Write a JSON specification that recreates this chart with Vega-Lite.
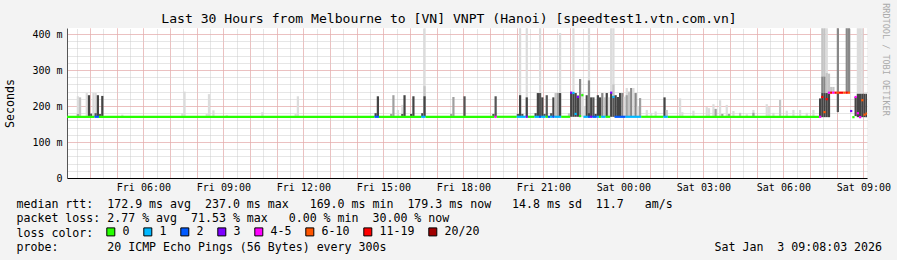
{
  "$schema": "https://vega.github.io/schema/vega-lite/v6.json",
  "width": 800,
  "height": 150,
  "autosize": {"type": "none"},
  "padding": {"left": 67, "top": 28, "right": 30, "bottom": 82},
  "background": "#f3f3f3",
  "config": {"view": {"fill": "white", "stroke": null}},
  "datasets": {
    "smoke": [
      {"t": "2026-01-02T03:30Z", "t2": "2026-01-02T03:35Z", "lo": 170, "hi": 227, "g": "a"},
      {"t": "2026-01-02T03:30Z", "t2": "2026-01-02T03:35Z", "lo": 170, "hi": 178, "g": "c"},
      {"t": "2026-01-02T03:35Z", "t2": "2026-01-02T03:40Z", "lo": 170, "hi": 224, "g": "b"},
      {"t": "2026-01-02T03:50Z", "t2": "2026-01-02T03:55Z", "lo": 170, "hi": 236, "g": "a"},
      {"t": "2026-01-02T03:55Z", "t2": "2026-01-02T04:00Z", "lo": 170, "hi": 230, "g": "f"},
      {"t": "2026-01-02T04:00Z", "t2": "2026-01-02T04:05Z", "lo": 170, "hi": 179, "g": "e"},
      {"t": "2026-01-02T04:05Z", "t2": "2026-01-02T04:10Z", "lo": 170, "hi": 236, "g": "a"},
      {"t": "2026-01-02T04:10Z", "t2": "2026-01-02T04:15Z", "lo": 170, "hi": 236, "g": "a"},
      {"t": "2026-01-02T04:10Z", "t2": "2026-01-02T04:15Z", "lo": 170, "hi": 180, "g": "e"},
      {"t": "2026-01-02T04:15Z", "t2": "2026-01-02T04:20Z", "lo": 170, "hi": 230, "g": "f"},
      {"t": "2026-01-02T04:20Z", "t2": "2026-01-02T04:25Z", "lo": 170, "hi": 178, "g": "e"},
      {"t": "2026-01-02T04:25Z", "t2": "2026-01-02T04:30Z", "lo": 170, "hi": 228, "g": "f"},
      {"t": "2026-01-02T05:10Z", "t2": "2026-01-02T05:15Z", "lo": 170, "hi": 176, "g": "a"},
      {"t": "2026-01-02T07:25Z", "t2": "2026-01-02T07:30Z", "lo": 170, "hi": 180, "g": "a"},
      {"t": "2026-01-02T07:30Z", "t2": "2026-01-02T07:35Z", "lo": 170, "hi": 240, "g": "a"},
      {"t": "2026-01-02T08:20Z", "t2": "2026-01-02T08:25Z", "lo": 170, "hi": 178, "g": "a"},
      {"t": "2026-01-02T08:25Z", "t2": "2026-01-02T08:30Z", "lo": 170, "hi": 233, "g": "a"},
      {"t": "2026-01-02T08:35Z", "t2": "2026-01-02T08:40Z", "lo": 170, "hi": 188, "g": "a"},
      {"t": "2026-01-02T09:05Z", "t2": "2026-01-02T09:10Z", "lo": 170, "hi": 175, "g": "a"},
      {"t": "2026-01-02T10:25Z", "t2": "2026-01-02T10:30Z", "lo": 170, "hi": 183, "g": "a"},
      {"t": "2026-01-02T11:40Z", "t2": "2026-01-02T11:45Z", "lo": 170, "hi": 178, "g": "a"},
      {"t": "2026-01-02T11:45Z", "t2": "2026-01-02T11:50Z", "lo": 170, "hi": 227, "g": "a"},
      {"t": "2026-01-02T14:40Z", "t2": "2026-01-02T14:45Z", "lo": 170, "hi": 180, "g": "f"},
      {"t": "2026-01-02T14:45Z", "t2": "2026-01-02T14:50Z", "lo": 170, "hi": 227, "g": "f"},
      {"t": "2026-01-02T15:15Z", "t2": "2026-01-02T15:20Z", "lo": 170, "hi": 178, "g": "c"},
      {"t": "2026-01-02T15:20Z", "t2": "2026-01-02T15:25Z", "lo": 170, "hi": 230, "g": "c"},
      {"t": "2026-01-02T15:30Z", "t2": "2026-01-02T15:35Z", "lo": 170, "hi": 189, "g": "a"},
      {"t": "2026-01-02T15:40Z", "t2": "2026-01-02T15:45Z", "lo": 170, "hi": 203, "g": "a"},
      {"t": "2026-01-02T15:40Z", "t2": "2026-01-02T15:45Z", "lo": 170, "hi": 178, "g": "e"},
      {"t": "2026-01-02T15:45Z", "t2": "2026-01-02T15:50Z", "lo": 170, "hi": 230, "g": "f"},
      {"t": "2026-01-02T16:00Z", "t2": "2026-01-02T16:05Z", "lo": 170, "hi": 178, "g": "f"},
      {"t": "2026-01-02T16:05Z", "t2": "2026-01-02T16:10Z", "lo": 170, "hi": 227, "g": "f"},
      {"t": "2026-01-02T16:25Z", "t2": "2026-01-02T16:30Z", "lo": 170, "hi": 180, "g": "f"},
      {"t": "2026-01-02T16:30Z", "t2": "2026-01-02T16:35Z", "lo": 170, "hi": 416, "g": "a"},
      {"t": "2026-01-02T16:30Z", "t2": "2026-01-02T16:35Z", "lo": 170, "hi": 255, "g": "b"},
      {"t": "2026-01-02T16:30Z", "t2": "2026-01-02T16:35Z", "lo": 170, "hi": 227, "g": "f"},
      {"t": "2026-01-02T17:30Z", "t2": "2026-01-02T17:35Z", "lo": 170, "hi": 178, "g": "c"},
      {"t": "2026-01-02T17:35Z", "t2": "2026-01-02T17:40Z", "lo": 170, "hi": 225, "g": "c"},
      {"t": "2026-01-02T18:00Z", "t2": "2026-01-02T18:05Z", "lo": 170, "hi": 227, "g": "e"},
      {"t": "2026-01-02T19:05Z", "t2": "2026-01-02T19:10Z", "lo": 170, "hi": 178, "g": "e"},
      {"t": "2026-01-02T19:10Z", "t2": "2026-01-02T19:15Z", "lo": 170, "hi": 227, "g": "e"},
      {"t": "2026-01-02T20:00Z", "t2": "2026-01-02T20:05Z", "lo": 170, "hi": 178, "g": "e"},
      {"t": "2026-01-02T20:05Z", "t2": "2026-01-02T20:10Z", "lo": 170, "hi": 416, "g": "a"},
      {"t": "2026-01-02T20:05Z", "t2": "2026-01-02T20:10Z", "lo": 170, "hi": 230, "g": "f"},
      {"t": "2026-01-02T20:10Z", "t2": "2026-01-02T20:15Z", "lo": 170, "hi": 178, "g": "e"},
      {"t": "2026-01-02T20:20Z", "t2": "2026-01-02T20:25Z", "lo": 170, "hi": 416, "g": "a"},
      {"t": "2026-01-02T20:20Z", "t2": "2026-01-02T20:25Z", "lo": 170, "hi": 224, "g": "f"},
      {"t": "2026-01-02T20:40Z", "t2": "2026-01-02T20:45Z", "lo": 170, "hi": 180, "g": "f"},
      {"t": "2026-01-02T20:45Z", "t2": "2026-01-02T20:50Z", "lo": 170, "hi": 236, "g": "f"},
      {"t": "2026-01-02T20:50Z", "t2": "2026-01-02T20:55Z", "lo": 170, "hi": 416, "g": "a"},
      {"t": "2026-01-02T20:50Z", "t2": "2026-01-02T20:55Z", "lo": 170, "hi": 236, "g": "e"},
      {"t": "2026-01-02T20:55Z", "t2": "2026-01-02T21:00Z", "lo": 170, "hi": 224, "g": "f"},
      {"t": "2026-01-02T21:00Z", "t2": "2026-01-02T21:05Z", "lo": 170, "hi": 178, "g": "e"},
      {"t": "2026-01-02T21:05Z", "t2": "2026-01-02T21:10Z", "lo": 170, "hi": 230, "g": "e"},
      {"t": "2026-01-02T21:15Z", "t2": "2026-01-02T21:20Z", "lo": 170, "hi": 180, "g": "e"},
      {"t": "2026-01-02T21:20Z", "t2": "2026-01-02T21:25Z", "lo": 170, "hi": 224, "g": "f"},
      {"t": "2026-01-02T21:25Z", "t2": "2026-01-02T21:30Z", "lo": 170, "hi": 236, "g": "b"},
      {"t": "2026-01-02T21:30Z", "t2": "2026-01-02T21:35Z", "lo": 170, "hi": 236, "g": "c"},
      {"t": "2026-01-02T21:35Z", "t2": "2026-01-02T21:40Z", "lo": 170, "hi": 403, "g": "a"},
      {"t": "2026-01-02T21:35Z", "t2": "2026-01-02T21:40Z", "lo": 170, "hi": 236, "g": "f"},
      {"t": "2026-01-02T21:55Z", "t2": "2026-01-02T22:00Z", "lo": 170, "hi": 180, "g": "b"},
      {"t": "2026-01-02T22:00Z", "t2": "2026-01-02T22:05Z", "lo": 170, "hi": 236, "g": "f"},
      {"t": "2026-01-02T22:05Z", "t2": "2026-01-02T22:10Z", "lo": 170, "hi": 416, "g": "a"},
      {"t": "2026-01-02T22:05Z", "t2": "2026-01-02T22:10Z", "lo": 170, "hi": 236, "g": "f"},
      {"t": "2026-01-02T22:10Z", "t2": "2026-01-02T22:15Z", "lo": 170, "hi": 236, "g": "f"},
      {"t": "2026-01-02T22:15Z", "t2": "2026-01-02T22:20Z", "lo": 170, "hi": 229, "g": "f"},
      {"t": "2026-01-02T22:20Z", "t2": "2026-01-02T22:25Z", "lo": 170, "hi": 275, "g": "d"},
      {"t": "2026-01-02T22:25Z", "t2": "2026-01-02T22:30Z", "lo": 170, "hi": 236, "g": "a"},
      {"t": "2026-01-02T22:30Z", "t2": "2026-01-02T22:35Z", "lo": 170, "hi": 200, "g": "a"},
      {"t": "2026-01-02T22:35Z", "t2": "2026-01-02T22:40Z", "lo": 170, "hi": 230, "g": "f"},
      {"t": "2026-01-02T22:40Z", "t2": "2026-01-02T22:45Z", "lo": 170, "hi": 416, "g": "a"},
      {"t": "2026-01-02T22:40Z", "t2": "2026-01-02T22:45Z", "lo": 170, "hi": 271, "g": "d"},
      {"t": "2026-01-02T22:40Z", "t2": "2026-01-02T22:45Z", "lo": 170, "hi": 180, "g": "f"},
      {"t": "2026-01-02T22:45Z", "t2": "2026-01-02T22:50Z", "lo": 170, "hi": 224, "g": "f"},
      {"t": "2026-01-02T22:50Z", "t2": "2026-01-02T22:55Z", "lo": 170, "hi": 224, "g": "e"},
      {"t": "2026-01-02T22:55Z", "t2": "2026-01-02T23:00Z", "lo": 170, "hi": 178, "g": "f"},
      {"t": "2026-01-02T23:00Z", "t2": "2026-01-02T23:05Z", "lo": 170, "hi": 230, "g": "f"},
      {"t": "2026-01-02T23:05Z", "t2": "2026-01-02T23:10Z", "lo": 170, "hi": 224, "g": "f"},
      {"t": "2026-01-02T23:10Z", "t2": "2026-01-02T23:15Z", "lo": 170, "hi": 236, "g": "d"},
      {"t": "2026-01-02T23:15Z", "t2": "2026-01-02T23:20Z", "lo": 170, "hi": 224, "g": "b"},
      {"t": "2026-01-02T23:20Z", "t2": "2026-01-02T23:25Z", "lo": 170, "hi": 236, "g": "f"},
      {"t": "2026-01-02T23:25Z", "t2": "2026-01-02T23:30Z", "lo": 170, "hi": 224, "g": "a"},
      {"t": "2026-01-02T23:30Z", "t2": "2026-01-02T23:35Z", "lo": 170, "hi": 416, "g": "a"},
      {"t": "2026-01-02T23:30Z", "t2": "2026-01-02T23:35Z", "lo": 170, "hi": 236, "g": "f"},
      {"t": "2026-01-02T23:35Z", "t2": "2026-01-02T23:40Z", "lo": 170, "hi": 416, "g": "a"},
      {"t": "2026-01-02T23:35Z", "t2": "2026-01-02T23:40Z", "lo": 170, "hi": 260, "g": "b"},
      {"t": "2026-01-02T23:35Z", "t2": "2026-01-02T23:40Z", "lo": 170, "hi": 228, "g": "e"},
      {"t": "2026-01-02T23:40Z", "t2": "2026-01-02T23:45Z", "lo": 170, "hi": 230, "g": "f"},
      {"t": "2026-01-02T23:45Z", "t2": "2026-01-02T23:50Z", "lo": 170, "hi": 225, "g": "f"},
      {"t": "2026-01-02T23:50Z", "t2": "2026-01-02T23:55Z", "lo": 170, "hi": 236, "g": "f"},
      {"t": "2026-01-02T23:55Z", "t2": "2026-01-03T00:00Z", "lo": 170, "hi": 236, "g": "d"},
      {"t": "2026-01-03T00:00Z", "t2": "2026-01-03T00:05Z", "lo": 170, "hi": 226, "g": "a"},
      {"t": "2026-01-03T00:05Z", "t2": "2026-01-03T00:10Z", "lo": 170, "hi": 250, "g": "a"},
      {"t": "2026-01-03T00:05Z", "t2": "2026-01-03T00:10Z", "lo": 170, "hi": 230, "g": "c"},
      {"t": "2026-01-03T00:10Z", "t2": "2026-01-03T00:15Z", "lo": 170, "hi": 240, "g": "b"},
      {"t": "2026-01-03T00:15Z", "t2": "2026-01-03T00:20Z", "lo": 170, "hi": 250, "g": "d"},
      {"t": "2026-01-03T00:20Z", "t2": "2026-01-03T00:25Z", "lo": 170, "hi": 250, "g": "a"},
      {"t": "2026-01-03T00:25Z", "t2": "2026-01-03T00:30Z", "lo": 170, "hi": 236, "g": "d"},
      {"t": "2026-01-03T00:30Z", "t2": "2026-01-03T00:35Z", "lo": 170, "hi": 200, "g": "a"},
      {"t": "2026-01-03T00:35Z", "t2": "2026-01-03T00:40Z", "lo": 170, "hi": 222, "g": "c"},
      {"t": "2026-01-03T00:50Z", "t2": "2026-01-03T00:55Z", "lo": 170, "hi": 189, "g": "a"},
      {"t": "2026-01-03T01:00Z", "t2": "2026-01-03T01:05Z", "lo": 170, "hi": 181, "g": "a"},
      {"t": "2026-01-03T01:10Z", "t2": "2026-01-03T01:15Z", "lo": 170, "hi": 185, "g": "a"},
      {"t": "2026-01-03T01:30Z", "t2": "2026-01-03T01:35Z", "lo": 170, "hi": 224, "g": "f"},
      {"t": "2026-01-03T01:35Z", "t2": "2026-01-03T01:40Z", "lo": 170, "hi": 189, "g": "b"},
      {"t": "2026-01-03T02:05Z", "t2": "2026-01-03T02:10Z", "lo": 170, "hi": 221, "g": "a"},
      {"t": "2026-01-03T02:10Z", "t2": "2026-01-03T02:15Z", "lo": 170, "hi": 183, "g": "a"},
      {"t": "2026-01-03T02:35Z", "t2": "2026-01-03T02:40Z", "lo": 170, "hi": 187, "g": "a"},
      {"t": "2026-01-03T03:05Z", "t2": "2026-01-03T03:10Z", "lo": 170, "hi": 197, "g": "a"},
      {"t": "2026-01-03T03:10Z", "t2": "2026-01-03T03:15Z", "lo": 170, "hi": 194, "g": "a"},
      {"t": "2026-01-03T03:20Z", "t2": "2026-01-03T03:25Z", "lo": 170, "hi": 205, "g": "a"},
      {"t": "2026-01-03T03:25Z", "t2": "2026-01-03T03:30Z", "lo": 170, "hi": 192, "g": "c"},
      {"t": "2026-01-03T03:35Z", "t2": "2026-01-03T03:40Z", "lo": 170, "hi": 216, "g": "a"},
      {"t": "2026-01-03T03:40Z", "t2": "2026-01-03T03:45Z", "lo": 170, "hi": 178, "g": "c"},
      {"t": "2026-01-03T03:50Z", "t2": "2026-01-03T03:55Z", "lo": 170, "hi": 203, "g": "a"},
      {"t": "2026-01-03T03:55Z", "t2": "2026-01-03T04:00Z", "lo": 170, "hi": 178, "g": "c"},
      {"t": "2026-01-03T04:05Z", "t2": "2026-01-03T04:10Z", "lo": 170, "hi": 186, "g": "a"},
      {"t": "2026-01-03T04:20Z", "t2": "2026-01-03T04:25Z", "lo": 170, "hi": 181, "g": "b"},
      {"t": "2026-01-03T04:35Z", "t2": "2026-01-03T04:40Z", "lo": 170, "hi": 177, "g": "a"},
      {"t": "2026-01-03T04:50Z", "t2": "2026-01-03T04:55Z", "lo": 170, "hi": 189, "g": "a"},
      {"t": "2026-01-03T04:50Z", "t2": "2026-01-03T04:55Z", "lo": 170, "hi": 181, "g": "c"},
      {"t": "2026-01-03T05:20Z", "t2": "2026-01-03T05:25Z", "lo": 170, "hi": 205, "g": "a"},
      {"t": "2026-01-03T05:25Z", "t2": "2026-01-03T05:30Z", "lo": 170, "hi": 197, "g": "a"},
      {"t": "2026-01-03T05:35Z", "t2": "2026-01-03T05:40Z", "lo": 170, "hi": 181, "g": "a"},
      {"t": "2026-01-03T05:50Z", "t2": "2026-01-03T05:55Z", "lo": 170, "hi": 217, "g": "b"},
      {"t": "2026-01-03T06:05Z", "t2": "2026-01-03T06:10Z", "lo": 170, "hi": 187, "g": "a"},
      {"t": "2026-01-03T06:20Z", "t2": "2026-01-03T06:25Z", "lo": 170, "hi": 189, "g": "a"},
      {"t": "2026-01-03T06:35Z", "t2": "2026-01-03T06:40Z", "lo": 170, "hi": 189, "g": "a"},
      {"t": "2026-01-03T06:50Z", "t2": "2026-01-03T06:55Z", "lo": 170, "hi": 181, "g": "a"},
      {"t": "2026-01-03T07:05Z", "t2": "2026-01-03T07:10Z", "lo": 170, "hi": 189, "g": "a"},
      {"t": "2026-01-03T07:20Z", "t2": "2026-01-03T07:25Z", "lo": 169, "hi": 221, "g": "f"},
      {"t": "2026-01-03T07:25Z", "t2": "2026-01-03T07:30Z", "lo": 282, "hi": 416, "g": "b"},
      {"t": "2026-01-03T07:25Z", "t2": "2026-01-03T07:30Z", "lo": 236, "hi": 282, "g": "d"},
      {"t": "2026-01-03T07:25Z", "t2": "2026-01-03T07:30Z", "lo": 169, "hi": 236, "g": "f"},
      {"t": "2026-01-03T07:30Z", "t2": "2026-01-03T07:35Z", "lo": 282, "hi": 416, "g": "b"},
      {"t": "2026-01-03T07:30Z", "t2": "2026-01-03T07:35Z", "lo": 236, "hi": 282, "g": "d"},
      {"t": "2026-01-03T07:30Z", "t2": "2026-01-03T07:35Z", "lo": 169, "hi": 236, "g": "f"},
      {"t": "2026-01-03T07:35Z", "t2": "2026-01-03T07:40Z", "lo": 292, "hi": 416, "g": "a"},
      {"t": "2026-01-03T07:35Z", "t2": "2026-01-03T07:40Z", "lo": 236, "hi": 292, "g": "b"},
      {"t": "2026-01-03T07:35Z", "t2": "2026-01-03T07:40Z", "lo": 169, "hi": 236, "g": "f"},
      {"t": "2026-01-03T07:40Z", "t2": "2026-01-03T07:45Z", "lo": 169, "hi": 290, "g": "b"},
      {"t": "2026-01-03T07:40Z", "t2": "2026-01-03T07:45Z", "lo": 169, "hi": 234, "g": "f"},
      {"t": "2026-01-03T07:45Z", "t2": "2026-01-03T07:50Z", "lo": 239, "hi": 253, "g": "b"},
      {"t": "2026-01-03T07:50Z", "t2": "2026-01-03T07:55Z", "lo": 239, "hi": 253, "g": "b"},
      {"t": "2026-01-03T08:00Z", "t2": "2026-01-03T08:05Z", "lo": 237, "hi": 416, "g": "d"},
      {"t": "2026-01-03T08:00Z", "t2": "2026-01-03T08:05Z", "lo": 183, "hi": 237, "g": "e"},
      {"t": "2026-01-03T08:20Z", "t2": "2026-01-03T08:25Z", "lo": 237, "hi": 416, "g": "d"},
      {"t": "2026-01-03T08:25Z", "t2": "2026-01-03T08:30Z", "lo": 237, "hi": 416, "g": "d"},
      {"t": "2026-01-03T08:40Z", "t2": "2026-01-03T08:45Z", "lo": 172, "hi": 225, "g": "f"},
      {"t": "2026-01-03T08:45Z", "t2": "2026-01-03T08:50Z", "lo": 234, "hi": 416, "g": "a"},
      {"t": "2026-01-03T08:45Z", "t2": "2026-01-03T08:50Z", "lo": 169, "hi": 234, "g": "f"},
      {"t": "2026-01-03T08:50Z", "t2": "2026-01-03T08:55Z", "lo": 234, "hi": 416, "g": "a"},
      {"t": "2026-01-03T08:50Z", "t2": "2026-01-03T08:55Z", "lo": 169, "hi": 234, "g": "f"},
      {"t": "2026-01-03T08:55Z", "t2": "2026-01-03T09:00Z", "lo": 234, "hi": 416, "g": "a"},
      {"t": "2026-01-03T08:55Z", "t2": "2026-01-03T09:00Z", "lo": 169, "hi": 234, "g": "f"},
      {"t": "2026-01-03T09:00Z", "t2": "2026-01-03T09:05Z", "lo": 169, "hi": 234, "g": "f"},
      {"t": "2026-01-03T09:05Z", "t2": "2026-01-03T09:10Z", "lo": 169, "hi": 234, "g": "f"}
    ],
    "median": [
      {"s": "2026-01-02T03:05Z", "e": "2026-01-02T04:10Z", "rtt": 170, "loss": "0"},
      {"s": "2026-01-02T04:10Z", "e": "2026-01-02T04:20Z", "rtt": 170, "loss": "2"},
      {"s": "2026-01-02T04:20Z", "e": "2026-01-02T14:40Z", "rtt": 170, "loss": "0"},
      {"s": "2026-01-02T14:40Z", "e": "2026-01-02T14:50Z", "rtt": 170, "loss": "2"},
      {"s": "2026-01-02T14:50Z", "e": "2026-01-02T16:25Z", "rtt": 170, "loss": "0"},
      {"s": "2026-01-02T16:25Z", "e": "2026-01-02T16:35Z", "rtt": 170, "loss": "1"},
      {"s": "2026-01-02T16:35Z", "e": "2026-01-02T19:10Z", "rtt": 170, "loss": "0"},
      {"s": "2026-01-02T19:10Z", "e": "2026-01-02T19:15Z", "rtt": 170, "loss": "4-5"},
      {"s": "2026-01-02T19:15Z", "e": "2026-01-02T20:00Z", "rtt": 170, "loss": "0"},
      {"s": "2026-01-02T20:00Z", "e": "2026-01-02T20:20Z", "rtt": 170, "loss": "1"},
      {"s": "2026-01-02T20:20Z", "e": "2026-01-02T20:25Z", "rtt": 170, "loss": "3"},
      {"s": "2026-01-02T20:25Z", "e": "2026-01-02T20:40Z", "rtt": 170, "loss": "0"},
      {"s": "2026-01-02T20:40Z", "e": "2026-01-02T20:50Z", "rtt": 170, "loss": "1"},
      {"s": "2026-01-02T20:50Z", "e": "2026-01-02T20:55Z", "rtt": 170, "loss": "2"},
      {"s": "2026-01-02T20:55Z", "e": "2026-01-02T21:05Z", "rtt": 170, "loss": "1"},
      {"s": "2026-01-02T21:05Z", "e": "2026-01-02T21:10Z", "rtt": 170, "loss": "0"},
      {"s": "2026-01-02T21:10Z", "e": "2026-01-02T21:15Z", "rtt": 170, "loss": "2"},
      {"s": "2026-01-02T21:15Z", "e": "2026-01-02T21:20Z", "rtt": 170, "loss": "1"},
      {"s": "2026-01-02T21:20Z", "e": "2026-01-02T21:25Z", "rtt": 170, "loss": "2"},
      {"s": "2026-01-02T21:25Z", "e": "2026-01-02T21:40Z", "rtt": 170, "loss": "1"},
      {"s": "2026-01-02T21:40Z", "e": "2026-01-02T22:00Z", "rtt": 170, "loss": "0"},
      {"s": "2026-01-02T22:00Z", "e": "2026-01-02T22:05Z", "rtt": 237, "loss": "3"},
      {"s": "2026-01-02T22:05Z", "e": "2026-01-02T22:10Z", "rtt": 236, "loss": "1"},
      {"s": "2026-01-02T22:10Z", "e": "2026-01-02T22:15Z", "rtt": 178, "loss": "1"},
      {"s": "2026-01-02T22:15Z", "e": "2026-01-02T22:20Z", "rtt": 225, "loss": "3"},
      {"s": "2026-01-02T22:20Z", "e": "2026-01-02T22:25Z", "rtt": 172, "loss": "0"},
      {"s": "2026-01-02T22:25Z", "e": "2026-01-02T22:30Z", "rtt": 230, "loss": "0"},
      {"s": "2026-01-02T22:30Z", "e": "2026-01-02T22:40Z", "rtt": 170, "loss": "1"},
      {"s": "2026-01-02T22:40Z", "e": "2026-01-02T22:45Z", "rtt": 170, "loss": "2"},
      {"s": "2026-01-02T22:45Z", "e": "2026-01-02T22:50Z", "rtt": 170, "loss": "3"},
      {"s": "2026-01-02T22:50Z", "e": "2026-01-02T23:00Z", "rtt": 170, "loss": "2"},
      {"s": "2026-01-02T23:00Z", "e": "2026-01-02T23:05Z", "rtt": 170, "loss": "1"},
      {"s": "2026-01-02T23:05Z", "e": "2026-01-02T23:10Z", "rtt": 170, "loss": "0"},
      {"s": "2026-01-02T23:10Z", "e": "2026-01-02T23:20Z", "rtt": 170, "loss": "1"},
      {"s": "2026-01-02T23:20Z", "e": "2026-01-02T23:30Z", "rtt": 170, "loss": "0"},
      {"s": "2026-01-02T23:30Z", "e": "2026-01-02T23:35Z", "rtt": 237, "loss": "3"},
      {"s": "2026-01-02T23:35Z", "e": "2026-01-02T23:40Z", "rtt": 225, "loss": "1"},
      {"s": "2026-01-02T23:40Z", "e": "2026-01-03T00:05Z", "rtt": 170, "loss": "2"},
      {"s": "2026-01-03T00:05Z", "e": "2026-01-03T00:40Z", "rtt": 170, "loss": "1"},
      {"s": "2026-01-03T00:40Z", "e": "2026-01-03T01:30Z", "rtt": 170, "loss": "0"},
      {"s": "2026-01-03T01:30Z", "e": "2026-01-03T01:40Z", "rtt": 170, "loss": "1"},
      {"s": "2026-01-03T01:40Z", "e": "2026-01-03T07:20Z", "rtt": 170, "loss": "0"},
      {"s": "2026-01-03T07:20Z", "e": "2026-01-03T07:25Z", "rtt": 170, "loss": "4-5"},
      {"s": "2026-01-03T07:25Z", "e": "2026-01-03T07:30Z", "rtt": 225, "loss": "11-19"},
      {"s": "2026-01-03T07:30Z", "e": "2026-01-03T07:35Z", "rtt": 183, "loss": "6-10"},
      {"s": "2026-01-03T07:35Z", "e": "2026-01-03T07:40Z", "rtt": 219, "loss": "11-19"},
      {"s": "2026-01-03T07:40Z", "e": "2026-01-03T07:45Z", "rtt": 237, "loss": "4-5"},
      {"s": "2026-01-03T07:45Z", "e": "2026-01-03T07:50Z", "rtt": 237, "loss": "11-19"},
      {"s": "2026-01-03T07:50Z", "e": "2026-01-03T07:55Z", "rtt": 237, "loss": "4-5"},
      {"s": "2026-01-03T07:55Z", "e": "2026-01-03T08:00Z", "rtt": 237, "loss": "11-19"},
      {"s": "2026-01-03T08:00Z", "e": "2026-01-03T08:05Z", "rtt": 237, "loss": "6-10"},
      {"s": "2026-01-03T08:05Z", "e": "2026-01-03T08:15Z", "rtt": 237, "loss": "11-19"},
      {"s": "2026-01-03T08:15Z", "e": "2026-01-03T08:20Z", "rtt": 237, "loss": "6-10"},
      {"s": "2026-01-03T08:20Z", "e": "2026-01-03T08:25Z", "rtt": 237, "loss": "11-19"},
      {"s": "2026-01-03T08:25Z", "e": "2026-01-03T08:30Z", "rtt": 237, "loss": "6-10"},
      {"s": "2026-01-03T08:30Z", "e": "2026-01-03T08:35Z", "rtt": 186, "loss": "3"},
      {"s": "2026-01-03T08:35Z", "e": "2026-01-03T08:40Z", "rtt": 169, "loss": "0"},
      {"s": "2026-01-03T08:40Z", "e": "2026-01-03T08:45Z", "rtt": 225, "loss": "4-5"},
      {"s": "2026-01-03T08:45Z", "e": "2026-01-03T08:50Z", "rtt": 180, "loss": "4-5"},
      {"s": "2026-01-03T08:50Z", "e": "2026-01-03T08:55Z", "rtt": 169, "loss": "4-5"},
      {"s": "2026-01-03T08:55Z", "e": "2026-01-03T09:00Z", "rtt": 216, "loss": "6-10"},
      {"s": "2026-01-03T09:00Z", "e": "2026-01-03T09:05Z", "rtt": 176, "loss": "6-10"},
      {"s": "2026-01-03T09:05Z", "e": "2026-01-03T09:10Z", "rtt": 179, "loss": "6-10"}
    ]
  },
  "layer": [
    {
      "data": {"name": "smoke"},
      "mark": {"type": "rect", "clip": true},
      "encoding": {
        "x": {
          "field": "t", "type": "temporal",
          "scale": {"type": "utc", "domain": [1767323283000, 1767431283000]},
          "axis": {
            "orient": "top", "tickCount": 50,
            "grid": true, "gridColor": "#cccccc", "gridDash": [1, 1],
            "labels": false, "ticks": false, "domain": false,
            "title": "Last 30 Hours from Melbourne to [VN] VNPT (Hanoi) [speedtest1.vtn.com.vn]",
            "titleX": 381.5, "titleY": -5.3, "titleAlign": "center", "titleBaseline": "alphabetic",
            "titleFont": "DejaVu Sans Mono", "titleFontSize": 13.1, "titleFontWeight": "normal", "titleColor": "#000000"
          }
        },
        "x2": {"field": "t2"},
        "y": {
          "field": "lo", "type": "quantitative",
          "scale": {"domain": [0, 416.67], "nice": false, "zero": false},
          "axis": {
            "orient": "right", "values": [0, 20, 40, 60, 80, 100, 120, 140, 160, 180, 200, 220, 240, 260, 280, 300, 320, 340, 360, 380, 400],
            "grid": true, "gridColor": "#cccccc", "gridDash": [1, 1],
            "labels": false, "ticks": false, "domain": false,
            "title": "RRDTOOL / TOBI OETIKER",
            "titleX": 18, "titleY": 31, "titleAngle": 90, "titleAlign": "center", "titleBaseline": "middle",
            "titleFont": "DejaVu Sans Mono", "titleFontSize": 8.5, "titleFontWeight": "normal", "titleColor": "#aaaaaa"
          }
        },
        "y2": {"field": "hi"},
        "color": {
          "field": "g", "type": "nominal",
          "scale": {"domain": ["a", "b", "c", "d", "e", "f"], "range": ["#dcdcdc", "#c4c4c4", "#a0a0a0", "#888888", "#555555", "#444444"]},
          "legend": null
        }
      }
    },
    {
      "data": {"name": "median"},
      "mark": {"type": "rect", "clip": true, "yOffset": -1.1, "y2Offset": 1.1},
      "encoding": {
        "x": {
          "field": "s", "type": "temporal",
          "scale": {"type": "utc", "domain": [1767323283000, 1767431283000]},
          "axis": {
            "orient": "bottom", "tickCount": 30,
            "grid": true, "gridColor": "#f19c9c", "gridDash": [1, 1],
            "ticks": false, "domain": true, "domainColor": "#000000",
            "labelExpr": "utchours(datum.value) % 3 == 0 ? utcFormat(datum.value, '%a %H:%M') : ''",
            "labelFont": "DejaVu Sans Mono", "labelFontSize": 10, "labelColor": "#000000", "labelPadding": 4,
            "labelOverlap": false, "labelFlush": false, "labelBound": false,
            "title": [
              "median\u00a0rtt:\u00a0\u00a0172.9\u00a0ms\u00a0avg\u00a0\u00a0237.0\u00a0ms\u00a0max\u00a0\u00a0\u00a0169.0\u00a0ms\u00a0min\u00a0\u00a0179.3\u00a0ms\u00a0now\u00a0\u00a0\u00a014.8\u00a0ms\u00a0sd\u00a0\u00a011.7\u00a0\u00a0\u00a0am/s",
              "packet\u00a0loss:\u00a02.77\u00a0%\u00a0avg\u00a0\u00a071.53\u00a0%\u00a0max\u00a0\u00a0\u00a00.00\u00a0%\u00a0min\u00a0\u00a030.00\u00a0%\u00a0now",
              "loss\u00a0color:",
              "probe:\u00a0\u00a0\u00a0\u00a0\u00a0\u00a0\u00a020\u00a0ICMP\u00a0Echo\u00a0Pings\u00a0(56\u00a0Bytes)\u00a0every\u00a0300s\u00a0\u00a0\u00a0\u00a0\u00a0\u00a0\u00a0\u00a0\u00a0\u00a0\u00a0\u00a0\u00a0\u00a0\u00a0\u00a0\u00a0\u00a0\u00a0\u00a0\u00a0\u00a0\u00a0\u00a0\u00a0\u00a0\u00a0\u00a0\u00a0\u00a0\u00a0\u00a0\u00a0\u00a0\u00a0\u00a0\u00a0\u00a0\u00a0\u00a0\u00a0\u00a0\u00a0\u00a0\u00a0\u00a0\u00a0Sat\u00a0Jan\u00a0\u00a03\u00a009:08:03\u00a02026"
            ],
            "titleX": -51, "titleY": 29.7, "titleAlign": "left", "titleBaseline": "alphabetic",
            "titleFont": "DejaVu Sans Mono", "titleFontSize": 11.6, "titleFontWeight": "normal", "titleColor": "#000000",
            "titleLineHeight": 14.2
          }
        },
        "x2": {"field": "e"},
        "y": {
          "field": "rtt", "type": "quantitative",
          "scale": {"domain": [0, 416.67], "nice": false, "zero": false},
          "axis": {
            "orient": "left", "values": [0, 100, 200, 300, 400],
            "grid": true, "gridColor": "#f19c9c", "gridDash": [1, 1],
            "ticks": false, "domain": true, "domainColor": "#555555",
            "labelExpr": "datum.value == 0 ? '0\\u00a0\\u00a0' : datum.value + ' m'",
            "labelFont": "DejaVu Sans Mono", "labelFontSize": 10, "labelColor": "#000000", "labelPadding": 5,
            "title": "Seconds",
            "titleX": -57, "titleY": 75, "titleAngle": -90, "titleAlign": "center", "titleBaseline": "middle",
            "titleFont": "DejaVu Sans Mono", "titleFontSize": 11.6, "titleFontWeight": "normal", "titleColor": "#000000"
          }
        },
        "y2": {"field": "rtt"},
        "color": {
          "field": "loss", "type": "nominal",
          "scale": {"domain": ["0", "1", "2", "3", "4-5", "6-10", "11-19", "20/20"], "range": ["#26ff00", "#00b8ff", "#0059ff", "#7e00ff", "#ff00ff", "#ff5500", "#ff0000", "#a10000"]},
          "legend": {
            "orient": "none", "legendX": 38, "legendY": 198, "direction": "horizontal", "title": null,
            "symbolType": "square", "symbolSize": 64, "symbolStrokeColor": "#000000", "symbolStrokeWidth": 1,
            "labelFont": "DejaVu Sans Mono", "labelFontSize": 11.6, "labelColor": "#000000", "labelOffset": 6,
            "columnPadding": 11
          }
        }
      }
    }
  ],
  "resolve": {"scale": {"color": "independent"}, "axis": {"x": "independent", "y": "independent"}}
}
